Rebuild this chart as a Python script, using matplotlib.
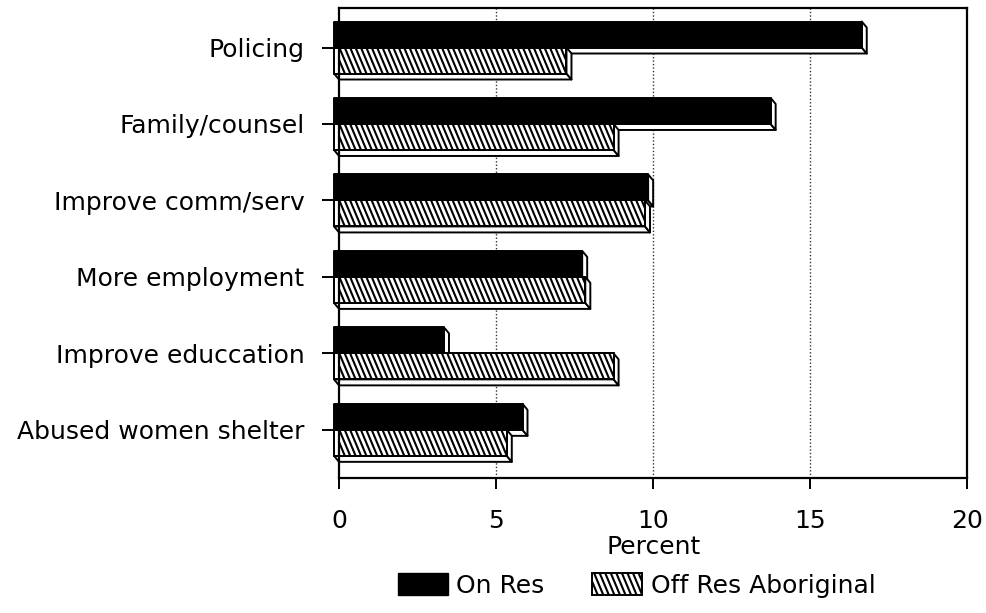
import numpy as np
import matplotlib
matplotlib.use("Agg")
import matplotlib.pyplot as plt
from matplotlib.patches import Polygon, Patch, Rectangle
from matplotlib.collections import LineCollection
from matplotlib.legend_handler import HandlerBase

categories = ["Policing", "Family/counsel", "Improve comm/serv",
              "More employment", "Improve educcation", "Abused women shelter"]
on_res = [16.8, 13.9, 10.0, 7.9, 3.5, 6.0]
off_res = [7.4, 8.9, 9.9, 8.0, 8.9, 5.5]
series_names = ["On Res", "Off Res Aboriginal"]
xticks = [0, 5, 10, 15, 20]

plt.rcParams["font.family"] = ["DejaVu Sans"]

W, HT, DPI = 9.87, 6.13, 100
fig = plt.figure(figsize=(W, HT), dpi=DPI)
pos = [0.3435, 0.2202, 0.6365, 0.7668]
ax = fig.add_axes(pos)
XLIM = (0, 20)
YLIM = (5.63, -0.517)

# pixels per data unit, used for the bar depth and the stripe slant
PX_X = W * DPI * pos[2] / (XLIM[1] - XLIM[0])
PX_Y = HT * DPI * pos[3] / (YLIM[0] - YLIM[1])

H = 0.34            # bar face height
DX = 5 / PX_X       # depth, x
DY = 6 / PX_Y       # depth, y (downward)
STEP = 5.4 / PX_X   # stripe spacing along x
SLANT = 0.42        # stripe x shift per unit of y, in pixels


def stripes(poly, x0, x1, y0, y1):
    slant = SLANT * (y1 - y0) * PX_Y / PX_X
    xs = np.arange(x0 - slant, x1 + STEP, STEP)
    segs = [[(x, y0), (x + slant, y1)] for x in xs]
    lc = LineCollection(segs, colors="black", linewidths=1.5, clip_on=True)
    ax.add_collection(lc)
    lc.set_clip_path(poly)


def bar3d(v, y0, face, striped=False):
    # front face, bottom face and right face of an extruded bar
    y1 = y0 + H
    kw = dict(edgecolor="black", linewidth=1.4, joinstyle="round")
    bottom = Polygon([(-DX, y1), (v - DX, y1), (v, y1 + DY), (0, y1 + DY)],
                     facecolor="white", **kw)
    side = Polygon([(v - DX, y0), (v, y0 + DY), (v, y1 + DY), (v - DX, y1)],
                   facecolor="white", **kw)
    front = Polygon([(-DX, y0), (v - DX, y0), (v - DX, y1), (-DX, y1)],
                    facecolor=face, **kw)
    for p in (bottom, side, front):
        p.set_clip_on(False)
        ax.add_patch(p)
    if striped:
        stripes(front, -DX, v - DX, y0, y1)
        edge = Polygon(front.get_xy(), facecolor="none", **kw)
        edge.set_clip_on(False)
        ax.add_patch(edge)


for i, (a, b) in enumerate(zip(on_res, off_res)):
    bar3d(a, i - H, "black")
    bar3d(b, i, "white", striped=True)

ax.set_xlim(*XLIM)
ax.set_ylim(*YLIM)
ax.set_xticks(xticks)
ax.set_xticklabels([str(t) for t in xticks])
ax.set_yticks(range(len(categories)))
ax.set_yticklabels(categories)
for x in xticks[1:-1]:
    ax.axvline(x, color="#333333", lw=1.0, ls=(0, (1, 1.5)), zorder=0)

for s in ax.spines.values():
    s.set_linewidth(1.6)
ax.tick_params(axis="y", length=12, width=1.4, pad=13, labelsize=18)
ax.tick_params(axis="x", length=8, width=1.4, pad=14, labelsize=18)
ax.set_xlabel("Percent", fontsize=18, labelpad=2)


class StripedHandler(HandlerBase):
    def create_artists(self, legend, orig_handle, xdescent, ydescent,
                       width, height, fontsize, trans):
        x0, y0 = -xdescent, -ydescent
        box = Rectangle((x0, y0), width, height, facecolor="white",
                        edgecolor="black", linewidth=1.4, transform=trans)
        slant = SLANT * height
        step = width / 9.0
        segs = [[(x, y0 + height), (x + slant, y0)]
                for x in np.arange(x0 - slant, x0 + width + step, step)]
        lc = LineCollection(segs, colors="black", linewidths=1.5,
                            transform=trans)
        lc.set_clip_path(box)
        return [box, lc]


handles = [Patch(facecolor="black", edgecolor="black"), Patch(facecolor="white")]
fig.legend(handles, series_names, loc="center", bbox_to_anchor=(0.645, 0.045),
           ncol=2, frameon=False, fontsize=18, handlelength=2.0,
           handleheight=0.95, handletextpad=0.35, columnspacing=1.9,
           handler_map={handles[1]: StripedHandler()})

fig.savefig("out.png", dpi=DPI)
